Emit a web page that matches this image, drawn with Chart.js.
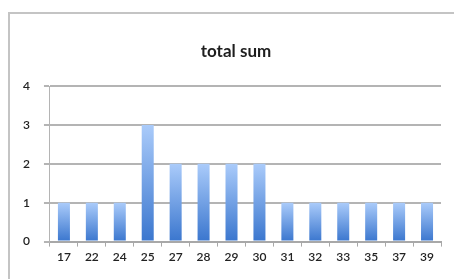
<!DOCTYPE html>
<html>
<head>
<meta charset="utf-8">
<script src="https://cdn.jsdelivr.net/npm/chart.js@4.4.0/dist/chart.umd.min.js"></script>
<style>
  html, body { margin: 0; padding: 0; background: #fff; }
  #wrap { position: relative; width: 454px; height: 279px; overflow: hidden; }
  #frame { position: absolute; left: 8px; top: 12px; width: 460px; height: 290px;
           border-left: 2px solid #c4c4c4; border-top: 2px solid #c4c4c4; }
  #title { position: absolute; left: 0; width: 472px; top: 40px; text-align: center;
           font: bold 17px Lato, sans-serif; color: #1e1e1e; }
  canvas { position: absolute; left: 0; top: 0; }
</style>
</head>
<body>
<div id="wrap">
  <div id="frame"></div>
  <canvas id="chart" width="454" height="279"></canvas>
  <div id="title">total sum</div>
</div>
<script>
// dữ liệu
const categories = ['17', '22', '24', '25', '27', '28', '29', '30', '31', '32', '33', '35', '37', '39'];
const totals = [1, 1, 1, 3, 2, 2, 2, 2, 1, 1, 1, 1, 1, 1];
const yTicks = [0, 1, 2, 3, 4];

// gradient riêng cho từng cột: sáng ở trên, đậm ở dưới
function barGradient(context) {
  const chart = context.chart;
  if (!chart.chartArea || context.raw == null) return '#5a8fdc';
  const y = chart.scales.y;
  const top = y.getPixelForValue(context.raw);
  const base = y.getPixelForValue(0);
  const g = chart.ctx.createLinearGradient(0, top, 0, base);
  g.addColorStop(0, '#aacbfa');
  g.addColorStop(1, '#3a76ce');
  return g;
}

const tickFont = { family: 'Lato', size: 12, weight: '600' };

const ctx = document.getElementById('chart').getContext('2d');
new Chart(ctx, {
  type: 'bar',
  data: {
    labels: categories,
    datasets: [{
      label: 'total sum',
      data: totals,
      backgroundColor: barGradient,
      borderWidth: 0,
      categoryPercentage: 1,
      barPercentage: 0.43
    }]
  },
  options: {
    responsive: false,
    animation: false,
    layout: { padding: { left: 9, right: 13, top: 86, bottom: 12 } },
    plugins: {
      legend: { display: false },
      tooltip: { enabled: false },
      title: { display: false }
    },
    scales: {
      x: {
        grid: {
          display: true,
          drawOnChartArea: false,
          offset: true,
          tickLength: 5,
          color: '#a8a8a8',
          lineWidth: 1
        },
        border: { display: true, color: '#a8a8a8', width: 2 },
        ticks: {
          color: '#222',
          font: tickFont,
          padding: 3,
          maxRotation: 0,
          autoSkip: false
        }
      },
      y: {
        min: 0,
        max: 4,
        afterBuildTicks: (axis) => { axis.ticks = yTicks.map(v => ({ value: v })); },
        grid: {
          color: '#b4b4b4',
          lineWidth: 2,
          tickLength: 6
        },
        border: { display: true, color: '#b4b4b4', width: 1 },
        ticks: {
          color: '#222',
          font: tickFont,
          padding: 14
        }
      }
    }
  }
});
</script>
</body>
</html>
